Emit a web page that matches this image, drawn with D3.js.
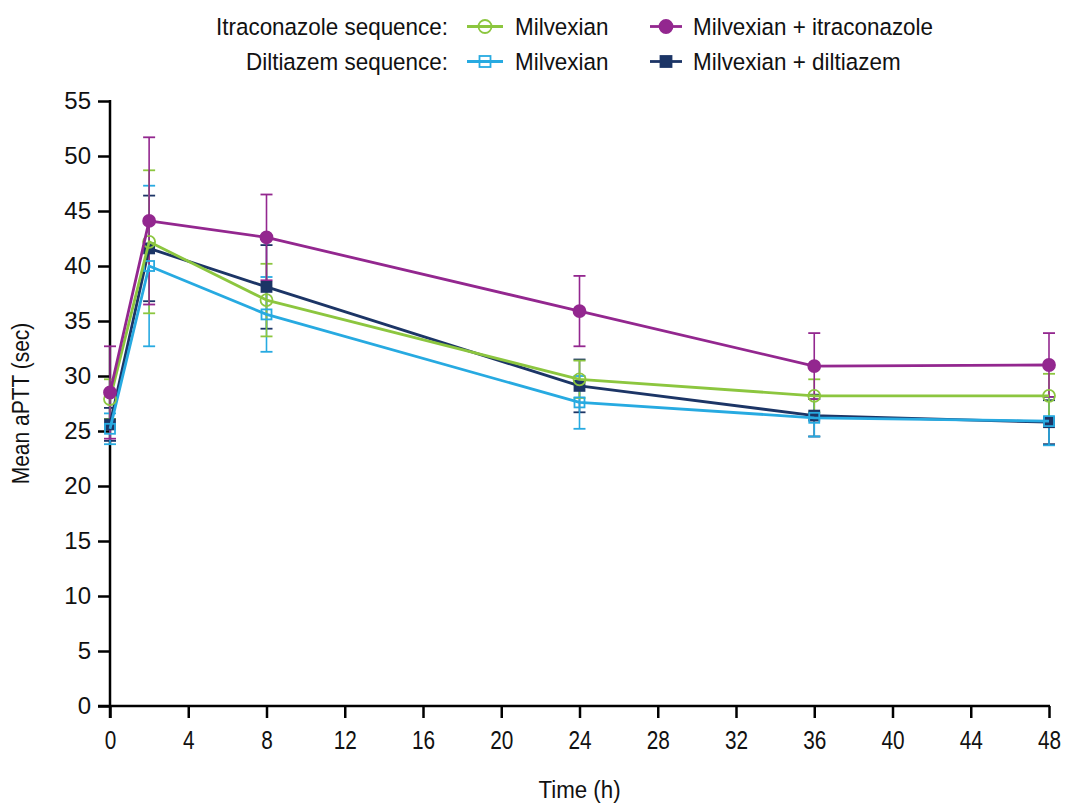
<!DOCTYPE html>
<html>
<head>
<meta charset="utf-8">
<script src="https://cdn.jsdelivr.net/npm/d3@7"></script>
<style>
  html, body { margin: 0; padding: 0; background: #fff; }
  svg { display: block; }
  text { font-family: "Liberation Sans", Arial, Helvetica, sans-serif; fill: #111; }
</style>
</head>
<body>
<svg id="chart" width="1065" height="805"></svg>
<script>
// ---------- data ----------
const times = [0, 2, 8, 24, 36, 48];
const xTicks = [0, 4, 8, 12, 16, 20, 24, 28, 32, 36, 40, 44, 48];
const yTicks = [0, 5, 10, 15, 20, 25, 30, 35, 40, 45, 50, 55];

const itraMilvexian      = [27.9, 42.2, 36.9, 29.7, 28.2, 28.2];
const itraMilvexianSD    = [1.8, 6.5, 3.3, 1.7, 1.5, 2.0];
const itraCombo          = [28.5, 44.1, 42.6, 35.9, 30.9, 31.0];
const itraComboSD        = [4.2, 7.6, 3.9, 3.2, 3.0, 2.9];
const diltMilvexian      = [25.2, 40.0, 35.6, 27.6, 26.2, 25.9];
const diltMilvexianSD    = [1.4, 7.3, 3.4, 2.4, 1.7, 2.2];
const diltCombo          = [25.6, 41.6, 38.1, 29.1, 26.4, 25.8];
const diltComboSD        = [1.5, 4.8, 3.8, 2.4, 1.9, 2.0];

const seriesNames = ["Milvexian", "Milvexian + itraconazole", "Milvexian", "Milvexian + diltiazem"];
const sequenceLabels = ["Itraconazole sequence:", "Diltiazem sequence:"];

// ---------- setup ----------
const svg = d3.select("#chart");
const x = d3.scaleLinear().domain([0, 48]).range([110, 1049]);
const y = d3.scaleLinear().domain([0, 55]).range([706, 101]);

const series = [
  { name: seriesNames[0], values: itraMilvexian, sd: itraMilvexianSD, color: "#8cc63f", shape: "circle", filled: false },
  { name: seriesNames[1], values: itraCombo, sd: itraComboSD, color: "#93278f", shape: "circle", filled: true },
  { name: seriesNames[2], values: diltMilvexian, sd: diltMilvexianSD, color: "#27aae1", shape: "square", filled: false },
  { name: seriesNames[3], values: diltCombo, sd: diltComboSD, color: "#1c3566", shape: "square", filled: true }
];

// condensed text helper (horizontal scale)
function condText(parent, tx, ty, str, size, anchor, sx, rot) {
  const g = parent.append("g")
    .attr("transform", `translate(${tx},${ty})` + (rot ? ` rotate(${rot})` : "") + ` scale(${sx},1)`);
  g.append("text").attr("font-size", size).attr("text-anchor", anchor || "start").text(str);
  return g;
}

// ---------- axes ----------
const yAxis = d3.axisLeft(y).tickValues(yTicks).tickSize(12).tickPadding(7).tickSizeOuter(0);
const gy = svg.append("g").attr("transform", "translate(110,0)").call(yAxis);
gy.select(".domain").remove();
gy.selectAll(".tick line").attr("stroke", "#000").attr("stroke-width", 2.5);
gy.selectAll(".tick text").attr("font-size", 24).attr("fill", "#111")
  .attr("font-family", "'Liberation Sans', Arial, sans-serif");

const xAxis = d3.axisBottom(x).tickValues(xTicks).tickSize(12).tickSizeOuter(0).tickFormat("");
const gx = svg.append("g").attr("transform", "translate(0,706)").call(xAxis);
gx.select(".domain").remove();
gx.selectAll(".tick line").attr("stroke", "#000").attr("stroke-width", 2.5);
gx.selectAll(".tick").each(function (d) {
  condText(d3.select(this), 0, 43, String(d), 26, "middle", 0.8);
});

// axis lines
svg.append("line").attr("x1", x(0)).attr("x2", x(0)).attr("y1", y(55) - 1).attr("y2", y(0) + 12)
  .attr("stroke", "#000").attr("stroke-width", 2.5);
svg.append("line").attr("x1", x(0) - 12).attr("x2", x(48) + 1).attr("y1", y(0)).attr("y2", y(0))
  .attr("stroke", "#000").attr("stroke-width", 2.5);

// axis titles
condText(svg, 29, (y(0) + y(55)) / 2, "Mean aPTT (sec)", 24, "middle", 0.875, -90);
condText(svg, (x(0) + x(48)) / 2, 798, "Time (h)", 24, "middle", 0.93);

// ---------- marks ----------
const line = d3.line().x((d, i) => x(times[i])).y(d => y(d));
const plot = svg.append("g");

function drawMarker(g, s, cx, cy, size) {
  if (s.shape === "circle") {
    g.append("circle").attr("cx", cx).attr("cy", cy).attr("r", size / 2)
      .attr("fill", s.filled ? s.color : "#fff").attr("fill-opacity", s.filled ? 1 : 0)
      .attr("stroke", s.color).attr("stroke-width", 1.8);
  } else {
    g.append("rect").attr("x", cx - size / 2 + 0.5).attr("y", cy - size / 2 + 0.5)
      .attr("width", size - 1).attr("height", size - 1)
      .attr("fill", s.filled ? s.color : "#fff").attr("fill-opacity", s.filled ? 1 : 0)
      .attr("stroke", s.color).attr("stroke-width", 1.8);
  }
}

const drawOrder = [3, 2, 0, 1];
// error bars
drawOrder.forEach(k => {
  const s = series[k];
  const g = plot.append("g");
  s.values.forEach((v, i) => {
    const cx = x(times[i]);
    const top = y(v + s.sd[i]), bot = y(v - s.sd[i]);
    g.append("line").attr("x1", cx).attr("x2", cx).attr("y1", top).attr("y2", bot)
      .attr("stroke", s.color).attr("stroke-width", 1.6);
    [top, bot].forEach(yy => g.append("line").attr("x1", cx - 6).attr("x2", cx + 6)
      .attr("y1", yy).attr("y2", yy).attr("stroke", s.color).attr("stroke-width", 1.8));
  });
});
// lines & markers
drawOrder.forEach(k => {
  const s = series[k];
  const g = plot.append("g");
  g.append("path").datum(s.values).attr("d", line).attr("fill", "none")
    .attr("stroke", s.color).attr("stroke-width", 2.8).attr("stroke-linejoin", "round");
  s.values.forEach((v, i) => drawMarker(g, s, x(times[i]), y(v), s.shape === "circle" ? 12 : 11));
});

// ---------- legend ----------
const legend = svg.append("g");
const rows = [26.5, 61.5];
rows.forEach((ry, r) => {
  condText(legend, 448, ry + 8.5, sequenceLabels[r], 23.5, "end", 0.955);
  [[467, 503, 515], [650, 682, 693]].forEach((pos, c) => {
    const s = series[r * 2 + c];
    legend.append("line").attr("x1", pos[0]).attr("x2", pos[1]).attr("y1", ry).attr("y2", ry)
      .attr("stroke", s.color).attr("stroke-width", 2.8);
    drawMarker(legend, s, (pos[0] + pos[1]) / 2, ry, s.shape === "circle" ? 13 : 12);
    condText(legend, pos[2], ry + 8.5, s.name, 23.5, "start", 0.955);
  });
});
</script>
</body>
</html>
